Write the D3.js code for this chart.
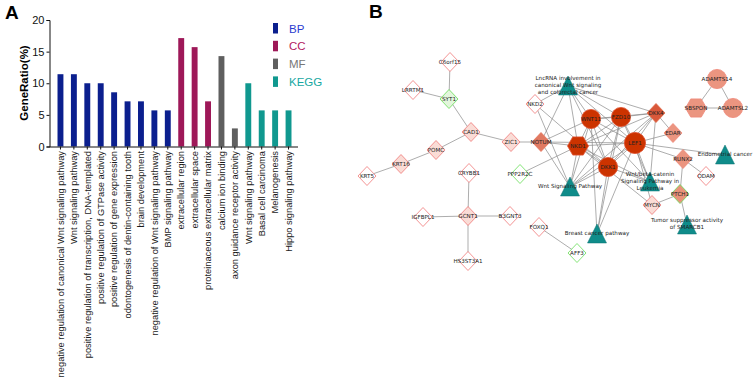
<!DOCTYPE html>
<html>
<head>
<meta charset="utf-8">
<script src="https://cdn.jsdelivr.net/npm/d3@7"></script>
<style>
  body { margin: 0; background: #fff; }
  svg { display: block; }
</style>
</head>
<body>
<svg id="chart" width="753" height="389"></svg>
<script>
// ---- panel A data ----
const terms = [
  "negative regulation of canonical Wnt signaling pathway",
  "Wnt signaling pathway",
  "positive regulation of transcription, DNA-templated",
  "positive regulation of GTPase activity",
  "positive regulation of gene expression",
  "odontogenesis of dentin-containing tooth",
  "brain development",
  "negative regulation of Wnt signaling pathway",
  "BMP signaling pathway",
  "extracellular region",
  "extracellular space",
  "proteinaceous extracellular matrix",
  "calcium ion binding",
  "axon guidance receptor activity",
  "Wnt signaling pathway ",
  "Basal cell carcinoma",
  "Melanogenesis",
  "Hippo signaling pathway"
];
const ratios = [11.43, 11.43, 10, 10, 8.57, 7.14, 7.14, 5.71, 5.71,
                17.14, 15.71, 7.14, 14.29, 2.86, 10, 5.71, 5.71, 5.71];
const groups = ["BP","BP","BP","BP","BP","BP","BP","BP","BP",
                "CC","CC","CC","MF","MF","KEGG","KEGG","KEGG","KEGG"];
const groupNames = ["BP", "CC", "MF", "KEGG"];
const yTicks = [0, 5, 10, 15, 20];

// ---- panel B data ----
const genes = [
  // name, shape, style
  ["C6orf15", "diamond", "white"],
  ["LRRTM1", "diamond", "white"],
  ["SYT1", "diamond", "green"],
  ["CAD1", "diamond", "light"],
  ["ZIC1", "diamond", "light"],
  ["NOTUM", "diamond", "mid"],
  ["POMC", "diamond", "light"],
  ["KRT16", "diamond", "light"],
  ["KRT5", "diamond", "white"],
  ["CRYBB1", "diamond", "white"],
  ["PPP2R2C", "diamond", "greenWhite"],
  ["NKD2", "diamond", "white"],
  ["WNT11", "circle", "hub"],
  ["FZD10", "circle", "hub"],
  ["LEF1", "circle", "hub"],
  ["DKK1", "circle", "hub"],
  ["NKD1", "hexagon", "hub"],
  ["DKK4", "diamond", "dark"],
  ["EDAR", "diamond", "salmon"],
  ["RUNX2", "diamond", "salmon"],
  ["ODAM", "diamond", "white"],
  ["PTCH1", "diamond", "salmonGreen"],
  ["MYCN", "diamond", "light"],
  ["ADAMTS14", "circle", "salmon"],
  ["ADAMTSL2", "circle", "salmon"],
  ["SBSPON", "hexagon", "salmon"],
  ["GCNT1", "diamond", "light"],
  ["IGFBPL1", "diamond", "white"],
  ["B3GNT3", "diamond", "white"],
  ["HS3ST3A1", "diamond", "white"],
  ["FOXQ1", "diamond", "white"],
  ["AFF3", "diamond", "greenWhite"]
];
const pathways = [
  ["LncRNA", ["LncRNA involvement in", "canonical Wnt signaling", "and colorectal cancer"]],
  ["WntSP", ["Wnt Signaling Pathway"]],
  ["Leuk", ["Wnt/beta-catenin", "Signaling Pathway in", "Leukemia"]],
  ["Breast", ["Breast cancer pathway"]],
  ["Endo", ["Endometrial cancer"]],
  ["Tumor", ["Tumor suppressor activity", "of SMARCB1"]]
];
// layout of the network (network units)
const layout = {
  C6orf15: [120, 62], LRRTM1: [83, 90], SYT1: [119, 99], CAD1: [141, 132],
  ZIC1: [181, 142], NOTUM: [211, 142], POMC: [106, 150], KRT16: [71, 164],
  KRT5: [37, 176], CRYBB1: [139, 173], PPP2R2C: [190, 174], NKD2: [205, 104],
  WNT11: [261, 119], FZD10: [291, 117], LEF1: [305, 143], DKK1: [278, 167],
  NKD1: [248, 146], DKK4: [326, 113], EDAR: [343, 133], RUNX2: [353, 159],
  ODAM: [376, 176], PTCH1: [350, 194], MYCN: [322, 205],
  ADAMTS14: [387, 79], ADAMTSL2: [403, 108], SBSPON: [366, 108],
  GCNT1: [138, 216], IGFBPL1: [93, 217], B3GNT3: [180, 216], HS3ST3A1: [138, 261],
  FOXQ1: [209, 227], AFF3: [247, 253],
  LncRNA: [238, 86], WntSP: [240, 187], Leuk: [320, 182], Breast: [267, 234],
  Endo: [395, 155], Tumor: [357, 225]
};
const edges = [
  ["C6orf15","SYT1"], ["LRRTM1","SYT1"], ["SYT1","CAD1"], ["CAD1","POMC"],
  ["POMC","KRT16"], ["KRT16","KRT5"], ["CAD1","ZIC1"], ["ZIC1","NOTUM"],
  ["CRYBB1","GCNT1"], ["IGFBPL1","GCNT1"], ["GCNT1","B3GNT3"], ["GCNT1","HS3ST3A1"],
  ["FOXQ1","AFF3"], ["PPP2R2C","NKD1"],
  ["ADAMTS14","SBSPON"], ["ADAMTS14","ADAMTSL2"], ["SBSPON","ADAMTSL2"],
  ["NKD2","LncRNA"], ["NKD2","WntSP"], ["NKD2","DKK1"],
  ["NOTUM","NKD1"], ["NOTUM","LncRNA"], ["NOTUM","WntSP"], ["NOTUM","WNT11"], ["NOTUM","LEF1"],
  ["LncRNA","WNT11"], ["LncRNA","FZD10"], ["LncRNA","NKD1"], ["LncRNA","LEF1"],
  ["LncRNA","DKK1"], ["LncRNA","DKK4"],
  ["WntSP","WNT11"], ["WntSP","FZD10"], ["WntSP","NKD1"], ["WntSP","LEF1"],
  ["WntSP","DKK1"], ["WntSP","DKK4"],
  ["Leuk","WNT11"], ["Leuk","FZD10"], ["Leuk","NKD1"], ["Leuk","LEF1"],
  ["Leuk","DKK1"], ["Leuk","DKK4"],
  ["Breast","WNT11"], ["Breast","FZD10"], ["Breast","DKK1"], ["Breast","LEF1"],
  ["WNT11","FZD10"], ["WNT11","NKD1"], ["WNT11","LEF1"], ["WNT11","DKK1"], ["WNT11","DKK4"],
  ["FZD10","LEF1"], ["FZD10","DKK1"], ["FZD10","NKD1"], ["FZD10","DKK4"],
  ["LEF1","DKK1"], ["LEF1","NKD1"], ["LEF1","DKK4"], ["NKD1","DKK1"], ["DKK1","DKK4"], ["NKD1","DKK4"],
  ["LEF1","Endo"], ["LEF1","RUNX2"], ["LEF1","EDAR"], ["LEF1","MYCN"], ["DKK4","EDAR"],
  ["RUNX2","ODAM"], ["RUNX2","PTCH1"], ["PTCH1","MYCN"], ["PTCH1","Tumor"], ["MYCN","NKD1"]
];

const colors = { BP: "#0b1f8e", CC: "#9e1858", MF: "#5f5f5f", KEGG: "#10988f" };
const textColors = { BP: "#2a3bd0", CC: "#b3205f", MF: "#777777", KEGG: "#18a8a2" };
const styles = {
  white:      { fill: "#ffffff", stroke: "#f07878" },
  light:      { fill: "#fadcd6", stroke: "#f07878" },
  mid:        { fill: "#e07a62", stroke: "#e8735a" },
  dark:       { fill: "#d9583a", stroke: "#e06848" },
  salmon:     { fill: "#eb9580", stroke: "#f08878" },
  salmonGreen:{ fill: "#e8927a", stroke: "#66dd55" },
  hub:        { fill: "#cc3300", stroke: "#e05030" },
  green:      { fill: "#e3f6dc", stroke: "#66dd55" },
  greenWhite: { fill: "#ffffff", stroke: "#66dd55" }
};

const svg = d3.select("#chart");

// ================= Panel A =================
const gA = svg.append("g");
gA.append("text").attr("x", 5).attr("y", 19)
  .attr("font-family", "Liberation Sans, Arial, sans-serif")
  .attr("font-weight", "bold").attr("font-size", 19).text("A");

const x = d3.scaleBand().domain(d3.range(terms.length)).range([50, 299]).padding(0.56);
const y = d3.scaleLinear().domain([0, 20]).range([146.5, 20]);

gA.selectAll("rect.bar").data(ratios).enter().append("rect")
  .attr("class", "bar")
  .attr("x", (d, i) => x(i))
  .attr("width", x.bandwidth())
  .attr("y", d => y(d))
  .attr("height", d => y(0) - y(d))
  .attr("fill", (d, i) => colors[groups[i]]);

const yAxis = gA.append("g").attr("transform", "translate(49.5,0)")
  .call(d3.axisLeft(y).tickValues(yTicks).tickSize(3).tickPadding(2));
yAxis.selectAll("text").attr("font-size", 11)
  .attr("font-family", "Liberation Sans, Arial, sans-serif").attr("fill", "#111");
yAxis.select(".domain").attr("stroke", "#111");
yAxis.selectAll(".tick line").attr("stroke", "#111");

const xAxis = gA.append("g").attr("transform", "translate(0,146.5)")
  .call(d3.axisBottom(x).tickSize(3).tickSizeOuter(0).tickFormat(i => terms[i].trim()));
xAxis.select(".domain").attr("stroke", "#111").attr("d", "M49.5,0.5H298");
xAxis.selectAll(".tick line").attr("stroke", "#111");
xAxis.selectAll(".tick text")
  .attr("font-size", 9.3)
  .attr("font-family", "Liberation Sans, Arial, sans-serif")
  .attr("fill", "#1a1a1a")
  .attr("transform", "rotate(-90)")
  .attr("text-anchor", "end")
  .attr("x", -4.5).attr("y", 0).attr("dy", "0.35em");

gA.append("text")
  .attr("transform", "translate(28,83) rotate(-90)")
  .attr("text-anchor", "middle")
  .attr("font-family", "Liberation Sans, Arial, sans-serif")
  .attr("font-weight", "bold").attr("font-size", 11.5)
  .text("GeneRatio(%)");

const legend = gA.selectAll("g.leg").data(groupNames).enter().append("g")
  .attr("transform", (d, i) => `translate(273,${23 + i * 17.8})`);
legend.append("rect").attr("width", 5).attr("height", 10.5).attr("fill", d => colors[d]);
legend.append("text").attr("x", 16).attr("y", 9.5)
  .attr("font-family", "Liberation Sans, Arial, sans-serif").attr("font-size", 11.5)
  .attr("fill", d => textColors[d]).text(d => d);

// ================= Panel B =================
const gB = svg.append("g");
gB.append("text").attr("x", 369).attr("y", 18)
  .attr("font-family", "Liberation Sans, Arial, sans-serif")
  .attr("font-weight", "bold").attr("font-size", 19).text("B");

const nx = d3.scaleLinear().domain([0, 420]).range([330, 750]);
const ny = d3.scaleLinear().domain([0, 389]).range([0, 389]);
const pos = name => [nx(layout[name][0]), ny(layout[name][1])];

gB.selectAll("line.edge").data(edges).enter().append("line")
  .attr("x1", d => pos(d[0])[0]).attr("y1", d => pos(d[0])[1])
  .attr("x2", d => pos(d[1])[0]).attr("y2", d => pos(d[1])[1])
  .attr("stroke", "#8a8a8a").attr("stroke-width", 0.7);

const hexPath = r => d3.line()(d3.range(6).map(k => {
  const a = Math.PI / 3 * k;
  return [r * Math.cos(a), r * Math.sin(a)];
})) + "Z";
const shapePath = {
  diamond: "M0,-9.5L9,0L0,9.5L-9,0Z",
  circle: d3.arc()({ innerRadius: 0, outerRadius: 9.6, startAngle: 0, endAngle: 2 * Math.PI }),
  hexagon: hexPath(10.5)
};

const geneG = gB.selectAll("g.gene").data(genes).enter().append("g")
  .attr("transform", d => `translate(${pos(d[0])[0]},${pos(d[0])[1]})`);
geneG.append("path")
  .attr("d", d => d[0] === "LEF1" ? d3.arc()({ innerRadius: 0, outerRadius: 10.6, startAngle: 0, endAngle: 2 * Math.PI }) : shapePath[d[1]])
  .attr("fill", d => styles[d[2]].fill)
  .attr("stroke", d => styles[d[2]].stroke)
  .attr("stroke-width", 0.8);

const pathG = gB.selectAll("g.path").data(pathways).enter().append("g")
  .attr("transform", d => `translate(${pos(d[0])[0]},${pos(d[0])[1]})`);
pathG.append("path").attr("d", "M0,-10L9.5,9L-9.5,9Z")
  .attr("fill", "#0f8c8a").attr("stroke", "#0b7270").attr("stroke-width", 0.5);

const labelFont = "DejaVu Sans, Verdana, sans-serif";
geneG.append("text")
  .attr("text-anchor", "middle").attr("dy", "0.35em")
  .attr("font-family", labelFont).attr("font-size", 5.6).attr("fill", "#222")
  .text(d => d[0]);

pathG.each(function (d) {
  const lines = d[1];
  const t = d3.select(this).append("text")
    .attr("text-anchor", "middle")
    .attr("font-family", labelFont).attr("font-size", 5.6).attr("fill", "#222");
  lines.forEach((s, i) => {
    t.append("tspan").attr("x", 0)
      .attr("y", (i - (lines.length - 1) / 2) * 7 - 1)
      .attr("dy", "0.35em").text(s);
  });
});
</script>
</body>
</html>
